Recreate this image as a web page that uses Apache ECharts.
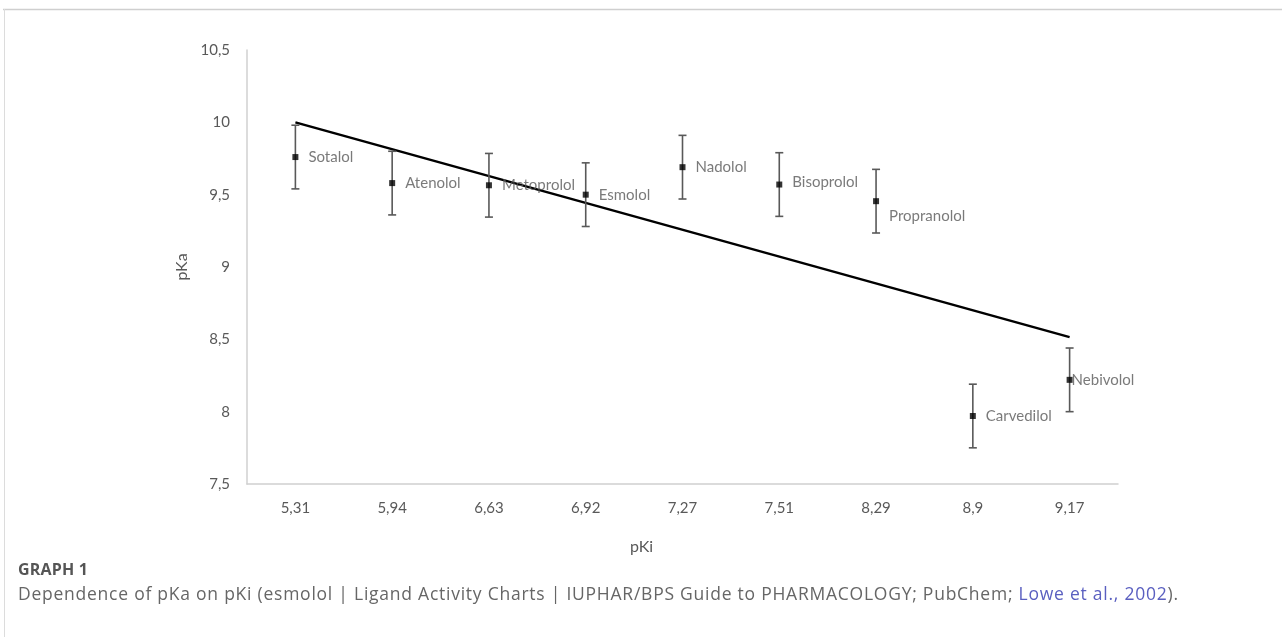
<!DOCTYPE html>
<html>
<head>
<meta charset="utf-8">
<script src="https://cdn.jsdelivr.net/npm/echarts@6/dist/echarts.min.js"></script>
<style>
  html, body { margin: 0; padding: 0; background: #fff; }
  #wrap { position: relative; width: 1282px; height: 637px; overflow: hidden; }
  #chart { position: absolute; left: 0; top: 0; width: 1282px; height: 637px; }
  #cap-title { position: absolute; left: 18px; top: 558px; font: bold 16px "Open Sans", sans-serif; color: #555; white-space: nowrap; }
  #cap-text { position: absolute; left: 18px; top: 581px; font: 17.5px "Open Sans", sans-serif; color: #666; white-space: nowrap; }
  #cap-text .lnk { color: #5a5fc0; }
</style>
</head>
<body>
<div id="wrap">
  <div id="chart"></div>
  <div id="cap-title">GRAPH 1</div>
  <div id="cap-text">Dependence of pKa on pKi (esmolol | Ligand Activity Charts | IUPHAR/BPS Guide to PHARMACOLOGY; PubChem; <span class="lnk">Lowe et al., 2002</span>).</div>
</div>
<script>
// ---- data ----
const categories = ['5,31', '5,94', '6,63', '6,92', '7,27', '7,51', '8,29', '8,9', '9,17'];
const drugNames = ['Sotalol', 'Atenolol', 'Metoprolol', 'Esmolol', 'Nadolol', 'Bisoprolol', 'Propranolol', 'Carvedilol', 'Nebivolol'];
const pKaValues = [9.76, 9.58, 9.565, 9.50, 9.69, 9.57, 9.455, 7.97, 8.22];
const errorValues = [0.22, 0.22, 0.22, 0.22, 0.22, 0.22, 0.22, 0.22, 0.22];
const trendStart = 10.0;
const trendEnd = 8.515;
const yTicks = { min: 7.5, max: 10.5, step: 0.5 };

// ---- label placement (layout only) ----
const labelLayout = {
  'Nebivolol': { offset: [-11, 0] },
  'Propranolol': { offset: [0, 15] },
  'Bisoprolol': { offset: [0, -2] }
};

const textColor = '#595959';
const fontFam = 'Lato, "Open Sans", sans-serif';

// caption width fitting (reference caption spans ~18..1178 px)
(function fitCaption() {
  const el = document.getElementById('cap-text');
  const n = el.textContent.length;
  const w = el.getBoundingClientRect().width;
  const target = 1160;
  if (n > 1) el.style.letterSpacing = ((target - w) / (n - 1)) + 'px';
  const t = document.getElementById('cap-title');
  const tw = t.getBoundingClientRect().width;
  const tn = t.textContent.length;
  t.style.letterSpacing = Math.max(0, (70 - tw) / (tn - 1)) + 'px';
})();

const chart = echarts.init(document.getElementById('chart'), null, { renderer: 'canvas' });

const scatterData = pKaValues.map((v, i) => {
  const lay = labelLayout[drugNames[i]];
  const item = { value: [i, v], name: drugNames[i] };
  if (lay) item.label = { offset: lay.offset };
  return item;
});

const errorData = pKaValues.map((v, i) => [i, v - errorValues[i], v + errorValues[i]]);

const trendData = categories.map((c, i) => {
  if (i === 0) return trendStart;
  if (i === categories.length - 1) return trendEnd;
  return null;
});

const option = {
  animation: false,
  grid: { left: 247, right: 164, top: 50, bottom: 153, containLabel: false },
  xAxis: {
    type: 'category',
    data: categories,
    boundaryGap: true,
    name: 'pKi',
    nameLocation: 'middle',
    nameGap: 55,
    nameTextStyle: { color: textColor, fontSize: 16, fontFamily: fontFam, padding: [0, 82, 0, 0] },
    axisLine: { show: true, lineStyle: { color: '#d0d0d0', width: 1.5 } },
    axisTick: { show: false },
    axisLabel: { color: textColor, fontSize: 15, fontFamily: fontFam, margin: 17 },
    splitLine: { show: false }
  },
  yAxis: {
    type: 'value',
    min: yTicks.min,
    max: yTicks.max,
    interval: yTicks.step,
    name: 'pKa',
    nameLocation: 'middle',
    nameGap: 56,
    nameTextStyle: { color: textColor, fontSize: 16, fontFamily: fontFam },
    axisLine: { show: true, lineStyle: { color: '#d0d0d0', width: 1.5 } },
    axisTick: { show: false },
    axisLabel: {
      color: textColor, fontSize: 15, fontFamily: fontFam, margin: 17,
      formatter: v => String(Math.round(v * 10) / 10).replace('.', ',')
    },
    splitLine: { show: false }
  },
  series: [
    {
      type: 'line',
      data: trendData,
      connectNulls: true,
      showSymbol: false,
      symbol: 'none',
      lineStyle: { color: '#000', width: 2.5 },
      z: 3
    },
    {
      type: 'custom',
      data: errorData,
      encode: { x: 0, y: [1, 2] },
      z: 4,
      renderItem: function (params, api) {
        const x = api.value(0);
        const lo = api.coord([x, api.value(1)]);
        const hi = api.coord([x, api.value(2)]);
        const cap = 4;
        const st = { stroke: '#595959', lineWidth: 1.6 };
        return {
          type: 'group',
          children: [
            { type: 'line', shape: { x1: lo[0], y1: lo[1], x2: hi[0], y2: hi[1] }, style: st },
            { type: 'line', shape: { x1: lo[0] - cap, y1: lo[1], x2: lo[0] + cap, y2: lo[1] }, style: st },
            { type: 'line', shape: { x1: hi[0] - cap, y1: hi[1], x2: hi[0] + cap, y2: hi[1] }, style: st }
          ]
        };
      }
    },
    {
      type: 'scatter',
      data: scatterData,
      symbol: 'rect',
      symbolSize: 6,
      itemStyle: { color: '#000' },
      z: 5,
      label: {
        show: true,
        position: 'right',
        distance: 10,
        formatter: p => p.name,
        color: textColor,
        fontSize: 15,
        fontFamily: fontFam
      }
    }
  ],
  graphic: [
    { type: 'line', shape: { x1: 3, y1: 9.5, x2: 1282, y2: 9.5 }, style: { stroke: '#cfcfcf', lineWidth: 1.5 } },
    { type: 'line', shape: { x1: 4.5, y1: 9, x2: 4.5, y2: 637 }, style: { stroke: '#dcdcdc', lineWidth: 1 } }
  ]
};

chart.setOption(option);
</script>
</body>
</html>
